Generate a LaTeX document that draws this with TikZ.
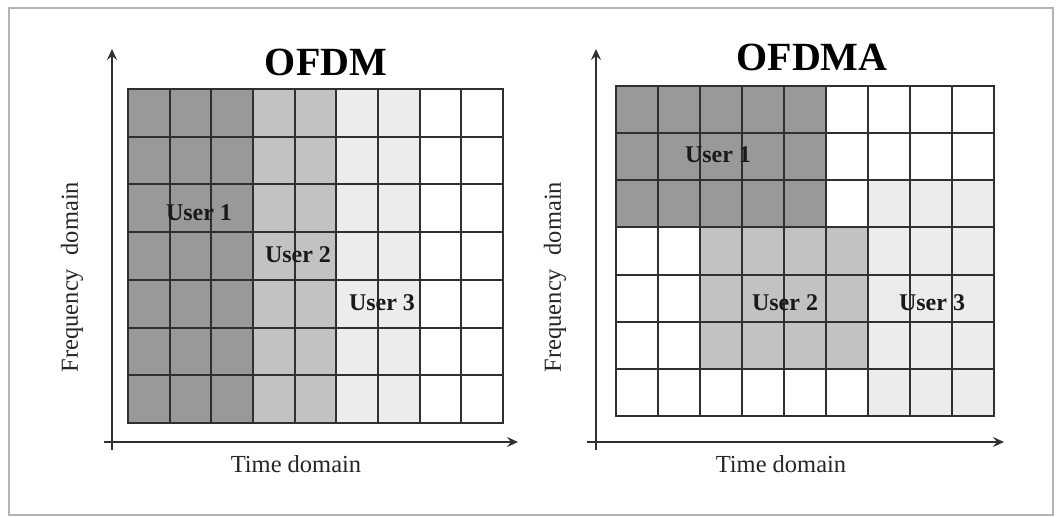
\documentclass[tikz,border=0pt]{standalone}
\usepackage{fontspec}
\setmainfont{Liberation Serif}
\usetikzlibrary{arrows.meta}

\definecolor{cD}{HTML}{999999}
\definecolor{cM}{HTML}{C2C2C2}
\definecolor{cL}{HTML}{ECECEC}
\definecolor{cW}{HTML}{FFFFFF}
\definecolor{gridcol}{HTML}{303030}
\definecolor{framecol}{HTML}{B4B4B4}

\tikzset{
  gridline/.style={draw=gridcol, line width=2pt, line cap=rect},
  axis/.style={draw=gridcol, line width=1.6pt,
    -{Stealth[length=11pt,width=10pt,inset=4pt]}},
  title/.style={font=\bfseries\fontsize{40}{44}\selectfont, inner sep=0pt},
  userlabel/.style={font=\bfseries\fontsize{24}{28}\selectfont, inner sep=0pt, text=black!90},
  axislabel/.style={font=\fontsize{24.5}{28}\selectfont, inner sep=0pt, text=black!85},
}

% \panelgrid{x0}{y0}{cell width}{cell height}{rows of colour codes}
\newcommand{\panelgrid}[5]{%
  \foreach \rowlist [count=\r] in {#5} {
    \foreach \c [count=\k] in \rowlist {
      \fill[c\c] ({#1+(\k-1)*#3},{#2+(\r-1)*#4}) rectangle ({#1+\k*#3},{#2+\r*#4});
    }
  }
  \foreach \k in {0,...,9} {
    \draw[gridline] ({#1+\k*#3},{#2}) -- ({#1+\k*#3},{#2+7*#4});
  }
  \foreach \r in {0,...,7} {
    \draw[gridline] ({#1},{#2+\r*#4}) -- ({#1+9*#3},{#2+\r*#4});
  }
}

\begin{document}
\begin{tikzpicture}[x=1pt,y=-1pt]
  \useasboundingbox (0,0) rectangle (1056,516);
  \fill[white] (0,0) rectangle (1056,516);
  \draw[framecol, line width=2.4pt] (9,8) rectangle (1053,515);

  % ---- OFDM: users share all subcarriers in separate time slots
  \panelgrid{128}{89}{41.667}{47.714}{
    {D,D,D,M,M,L,L,W,W},{D,D,D,M,M,L,L,W,W},{D,D,D,M,M,L,L,W,W},
    {D,D,D,M,M,L,L,W,W},{D,D,D,M,M,L,L,W,W},{D,D,D,M,M,L,L,W,W},
    {D,D,D,M,M,L,L,W,W}}

  \coordinate (L-ybot) at (112,450);
  \coordinate (L-ytip) at (112,49);
  \coordinate (L-xleft) at (104,442);
  \coordinate (L-xtip) at (518,442);
  \draw[axis] (L-ybot) -- (L-ytip);
  \draw[axis] (L-xleft) -- (L-xtip);

  \node[title] (L-title) at (326,62) {OFDM};
  \node[axislabel] (L-time) at (296,464) {Time domain};
  \node[axislabel, rotate=90] (L-freq) at (72,277) {Frequency\hspace{0.55em}domain};
  \node[userlabel] (L-u1) at (199,213) {User 1};
  \node[userlabel] (L-u2) at (298,255) {User 2};
  \node[userlabel] (L-u3) at (382,303) {User 3};

  % ---- OFDMA: users share time and frequency resource blocks
  \panelgrid{616}{86}{42}{47.143}{
    {D,D,D,D,D,W,W,W,W},{D,D,D,D,D,W,W,W,W},{D,D,D,D,D,W,L,L,L},
    {W,W,M,M,M,M,L,L,L},{W,W,M,M,M,M,L,L,L},{W,W,M,M,M,M,L,L,L},
    {W,W,W,W,W,W,L,L,L}}

  \coordinate (R-ybot) at (596,450);
  \coordinate (R-ytip) at (596,49);
  \coordinate (R-xleft) at (587,442);
  \coordinate (R-xtip) at (1004,442);
  \draw[axis] (R-ybot) -- (R-ytip);
  \draw[axis] (R-xleft) -- (R-xtip);

  \node[title] (R-title) at (812,57) {OFDMA};
  \node[axislabel] (R-time) at (781,464) {Time domain};
  \node[axislabel, rotate=90] (R-freq) at (555,277) {Frequency\hspace{0.55em}domain};
  \node[userlabel] (R-u1) at (718,155) {User 1};
  \node[userlabel] (R-u2) at (785,303) {User 2};
  \node[userlabel] (R-u3) at (932,303) {User 3};
\end{tikzpicture}
\end{document}
